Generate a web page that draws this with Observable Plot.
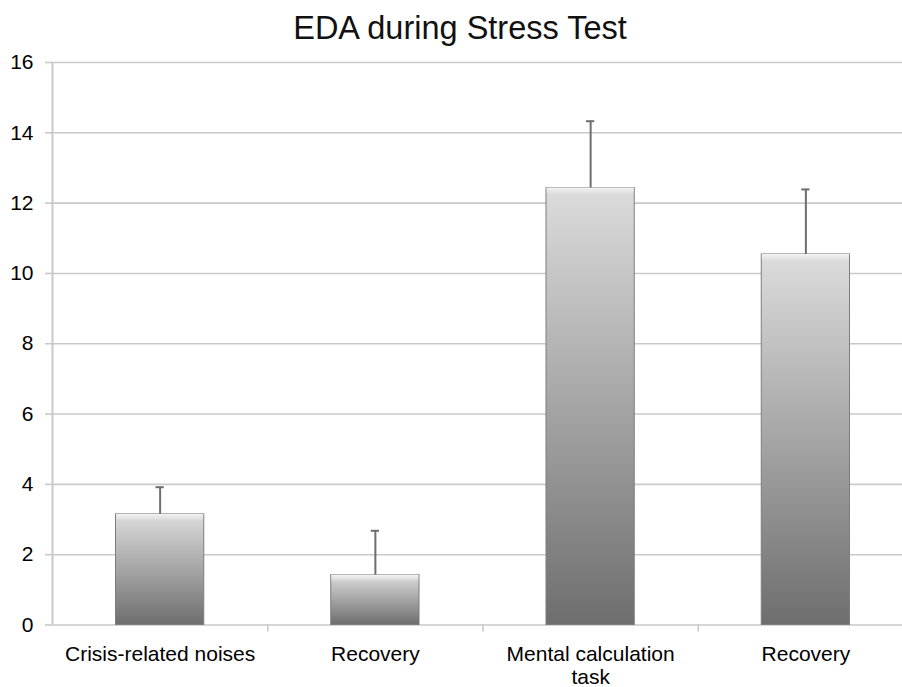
<!DOCTYPE html>
<html><head><meta charset="utf-8">
<script src="https://cdn.jsdelivr.net/npm/d3@7"></script>
<script src="https://cdn.jsdelivr.net/npm/@observablehq/plot@0.6"></script>
<style>
body{margin:0;background:#fff;font-family:"Liberation Sans",Arial,sans-serif;overflow:hidden}
#title{height:35px;padding-top:11px;line-height:35px;font-size:32.5px;text-align:center;padding-left:18px;color:#111;white-space:nowrap}
</style></head><body>
<div id="title">EDA during Stress Test</div>
<div id="chart"></div>
<script>
const categories = ["Crisis-related noises", "Recovery", "Mental calculation\ntask", "Recovery"];
const means = [3.15, 1.42, 12.43, 10.54];
const errors = [0.77, 1.26, 1.90, 1.85];
const yTicks = [0, 2, 4, 6, 8, 10, 12, 14, 16];
const boundaries = [1, 2, 3];

const data = categories.map((c, i) => ({i, c, v: means[i], e: errors[i]}));
const grid = "#c9c9c9";
const errColor = "#6e6e6e";

const chart = Plot.plot({
  width: 902, height: 641,
  marginTop: 16, marginBottom: 62.5, marginLeft: 52, marginRight: 0,
  x: {domain: [0, 4], range: [52, 913], axis: null},
  y: {domain: [0, 16], axis: null},
  style: {fontFamily: '"Liberation Sans", Arial, sans-serif', fontSize: "20px", background: "white", color: "black"},
  marks: [
    Plot.gridY(yTicks, {stroke: grid, strokeOpacity: 1, strokeWidth: 1.6}),
    Plot.axisY(yTicks, {tickSize: 7, text: null, stroke: grid, strokeWidth: 1.6, label: null}),
    Plot.text(yTicks, {x: 0, y: d => d, text: d => String(d), dx: -19, textAnchor: "end", fontSize: 21, fill: "black"}),
    Plot.ruleX([0], {stroke: grid, strokeWidth: 2}),
    Plot.axisX(boundaries, {tickSize: 7, stroke: grid, strokeWidth: 1.6, text: null, label: null}),
    Plot.rect(data, {x1: "i", x2: d => d.i + 1, y1: 0, y2: "v", insetLeft: 63.5, insetRight: 63.5,
      fill: "url(#barGrad)", stroke: "#7d7d7d", strokeWidth: 1}),
    Plot.rect(data, {x1: "i", x2: d => d.i + 1, y1: "v", y2: "v", insetLeft: 64, insetRight: 64, insetBottom: -7,
      fill: "url(#bevelGrad)"}),
    Plot.ruleX(data, {x: d => d.i + 0.5, y1: "v", y2: d => d.v + d.e, stroke: errColor, strokeWidth: 2}),
    Plot.ruleY(data, {y: d => d.v + d.e, x1: "i", x2: d => d.i + 1, insetLeft: 103.5, insetRight: 103.5, stroke: errColor, strokeWidth: 2}),
    Plot.text(data, {x: d => d.i + 0.5, y: 0, text: "c", dy: 19, lineAnchor: "top", fontSize: 21, lineHeight: 1.12, fill: "black"})
  ]
});

d3.select(chart).insert("defs", ":first-child").html(
  '<linearGradient id="barGrad" x1="0" y1="0" x2="0" y2="1">' +
  '<stop offset="0" stop-color="#dcdcdc"/><stop offset="1" stop-color="#6e6e6e"/></linearGradient>' +
  '<linearGradient id="bevelGrad" x1="0" y1="0" x2="0" y2="1">' +
  '<stop offset="0" stop-color="#ffffff" stop-opacity="0.95"/><stop offset="0.3" stop-color="#f4f4f4" stop-opacity="0.6"/>' +
  '<stop offset="1" stop-color="#ffffff" stop-opacity="0"/></linearGradient>'
);

document.getElementById("chart").appendChild(chart);
</script>
</body></html>
